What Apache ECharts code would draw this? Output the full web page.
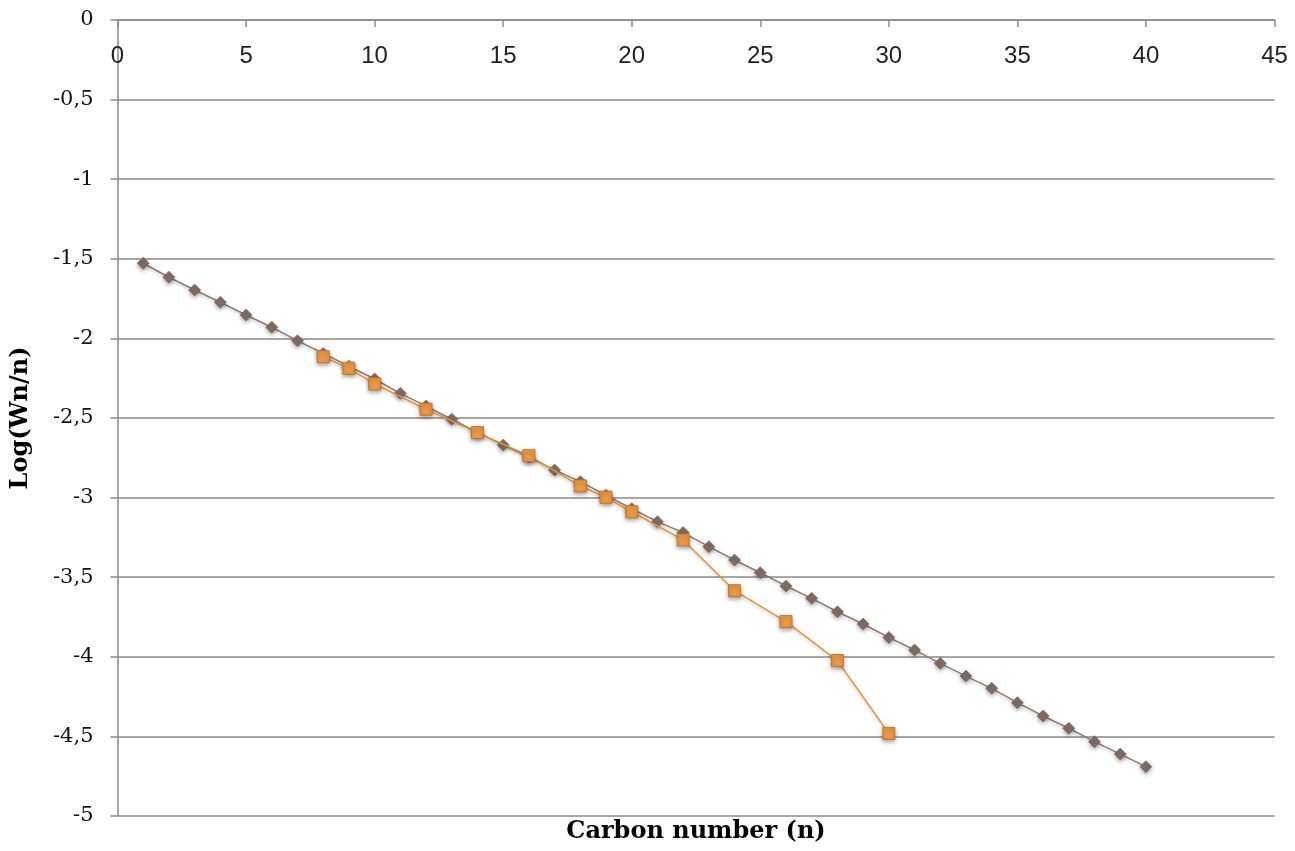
<!DOCTYPE html>
<html>
<head>
<meta charset="utf-8">
<script src="https://cdn.jsdelivr.net/npm/echarts@6/dist/echarts.min.js"></script>
<style>html,body{margin:0;padding:0;background:#fff}#c{width:1295px;height:851px}</style>
</head>
<body>
<div id="c"></div>
<script>
// Gray series (diamonds): carbon number n = 1..40
const grayN = [1,2,3,4,5,6,7,8,9,10,11,12,13,14,15,16,17,18,19,20,21,22,23,24,25,26,27,28,29,30,31,32,33,34,35,36,37,38,39,40];
const grayLog = [-1.528,-1.616,-1.696,-1.773,-1.853,-1.930,-2.014,-2.095,-2.175,-2.255,-2.345,-2.425,-2.508,-2.590,-2.670,-2.745,-2.827,-2.900,-2.985,-3.070,-3.151,-3.220,-3.308,-3.392,-3.472,-3.555,-3.633,-3.717,-3.794,-3.878,-3.957,-4.041,-4.121,-4.198,-4.288,-4.372,-4.449,-4.533,-4.611,-4.690];
// Orange series (squares)
const orangeN = [8,9,10,12,14,16,18,19,20,22,24,26,28,30];
const orangeLog = [-2.115,-2.188,-2.286,-2.445,-2.592,-2.737,-2.927,-2.998,-3.089,-3.266,-3.585,-3.779,-4.024,-4.481];

const xTitle = 'Carbon number (n)';
const yTitle = 'Log(Wn/n)';

const chart = echarts.init(document.getElementById('c'), null, {renderer:'canvas'});
const axisColor = '#8a8a8a';
chart.setOption({
  animation:false,
  backgroundColor:'#fff',
  grid:{left:117.5, top:20, right:20.5, bottom:35, containLabel:false, outerBoundsMode:'none'},
  xAxis:[{
    type:'value', position:'top', min:0, max:45, interval:5,
    axisLine:{show:true, onZero:false, lineStyle:{color:axisColor, width:1.5}},
    axisTick:{show:true, inside:true, length:7, lineStyle:{color:axisColor, width:1.5}},
    axisLabel:{inside:true, margin:24, color:'#222', fontFamily:'Liberation Sans', fontSize:24},
    splitLine:{show:false}
  },{
    type:'value', position:'bottom', min:0, max:45,
    axisLine:{show:false}, axisTick:{show:false}, axisLabel:{show:false}, splitLine:{show:false},
    name:xTitle, nameLocation:'middle', nameGap:4,
    nameTextStyle:{fontFamily:'DejaVu Serif', fontWeight:'bold', fontSize:24, color:'#000'}
  }],
  yAxis:{
    type:'value', min:-5, max:0, interval:0.5,
    axisLine:{show:true, onZero:false, lineStyle:{color:axisColor, width:1.5}},
    axisTick:{show:true, length:7, lineStyle:{color:axisColor, width:1.5}},
    axisLabel:{margin:24, color:'#111', fontFamily:'DejaVu Serif', fontSize:21,
      formatter:v=>String(Math.round(v*10)/10).replace('.',',')},
    splitLine:{show:true, lineStyle:{color:axisColor, width:1.5}},
    name:yTitle, nameLocation:'middle', nameRotate:90, nameGap:85,
    nameTextStyle:{fontFamily:'DejaVu Serif', fontWeight:'bold', fontSize:24, color:'#000'}
  },
  series:[{
    type:'line', name:'gray',
    data:grayN.map((n,i)=>[n,grayLog[i]]),
    symbol:'diamond', symbolSize:12, showAllSymbol:true,
    lineStyle:{color:'#8c7b70', width:1.5, shadowColor:'rgba(0,0,0,0.2)', shadowBlur:3, shadowOffsetY:2},
    itemStyle:{color:'#7f6d62', borderColor:'#6e5e54', borderWidth:0.5, shadowColor:'rgba(0,0,0,0.35)', shadowBlur:4, shadowOffsetY:2},
    z:2
  },{
    type:'line', name:'orange',
    data:orangeN.map((n,i)=>[n,orangeLog[i]]),
    symbol:'rect', symbolSize:12, showAllSymbol:true,
    lineStyle:{color:'#e8912e', width:1.5, shadowColor:'rgba(0,0,0,0.2)', shadowBlur:3, shadowOffsetY:2},
    itemStyle:{color:'#eb9a45', borderColor:'#c7772a', borderWidth:1, shadowColor:'rgba(0,0,0,0.35)', shadowBlur:4, shadowOffsetY:2},
    z:3
  }]
});
</script>
</body>
</html>
